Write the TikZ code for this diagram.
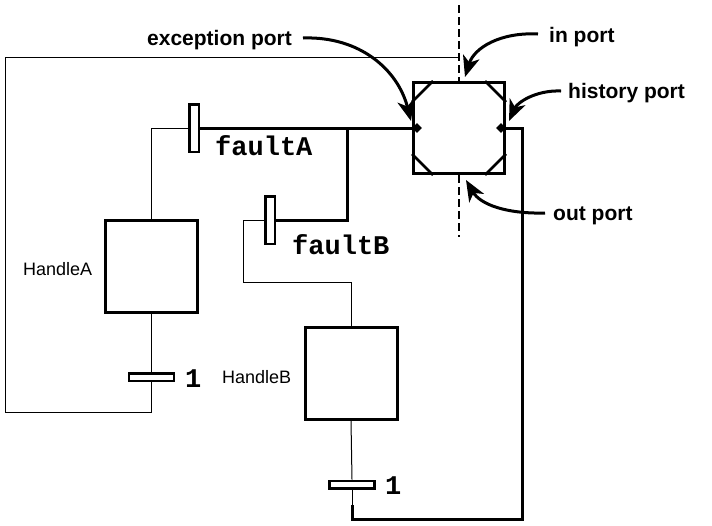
\documentclass[tikz,border=0pt]{standalone}
\usepackage{fontspec}
\setmainfont{Liberation Sans}
\newfontfamily\courfont{Liberation Mono}
\usetikzlibrary{arrows.meta,calc,shapes.geometric}
\begin{document}
\begin{tikzpicture}[x=1pt,y=-1pt,
  thinline/.style={line width=1pt},
  thickline/.style={line width=3pt},
  stepbox/.style={draw,line width=3pt,minimum width=92pt,minimum height=92pt,inner sep=0pt,fill=white},
  vbar/.style={draw,line width=2.5pt,fill=white,minimum width=9.5pt,minimum height=47.5pt,inner sep=0pt},
  hbar/.style={draw,line width=2.5pt,fill=white,minimum width=45pt,minimum height=7.5pt,inner sep=0pt},
  port/.style={diamond,fill=black,minimum width=10pt,minimum height=10pt,inner sep=0pt},
  lab/.style={anchor=base west,inner sep=0pt,font=\bfseries\fontsize{21}{21}\selectfont},
  handlelab/.style={anchor=base west,inner sep=0pt,font=\fontsize{18}{18}\selectfont},
  codelab/.style={anchor=base west,inner sep=0pt,font=\courfont\bfseries\fontsize{27}{27}\selectfont},
  callout/.style={line width=3pt,-{Stealth[length=21pt,width=17pt,inset=6pt]}},
  boundary/.style={line width=2.5pt,dash pattern=on 8pt off 4pt},
  corner/.style={line width=2.5pt}
]
\useasboundingbox (0,0) rectangle (712,525);

% macro step
\node[stepbox,minimum width=91pt,minimum height=91pt] (M) at (459,128) {};
\draw[corner] ($(M.north west)+(0,21)$) -- ($(M.north west)+(21,0)$);
\draw[corner] ($(M.north east)+(0,21)$) -- ($(M.north east)+(-21,0)$);
\draw[corner] ($(M.south west)+(0,-21)$) -- ($(M.south west)+(21,0)$);
\draw[corner] ($(M.south east)+(0,-21)$) -- ($(M.south east)+(-21,0)$);
\node[port] (exc) at (417,128) {};
\node[port] (hist) at (501,128) {};

% steps and transitions
\node[stepbox] (hA) at (151.5,266) {};
\node[stepbox] (hB) at (351,373.5) {};
\node[vbar] (fa) at (194,128) {};
\node[vbar] (fb) at (270,220) {};
\node[hbar] (tA) at (151.5,377) {};
\node[hbar] (tB) at (352,484.5) {};

% labels
\node[handlelab] (lhA) at (23,275) {HandleA};
\node[handlelab] (lhB) at (222,383) {HandleB};
\node[codelab] (lfa) at (215,155) {faultA};
\node[codelab] (lfb) at (292,254) {faultB};
\node[codelab] (l1A) at (185,387) {1};
\node[codelab] (l1B) at (385,494) {1};
\node[lab] (lexc) at (147,45) {exception port};
\node[lab] (lin) at (549,42) {in port};
\node[lab] (lhist) at (568,98) {history port};
\node[lab] (lout) at (553,220) {out port};

% coordinates
\coordinate (dtop) at (459,5);
\coordinate (dbot) at (459,237);
\coordinate (br) at (347,128);
\coordinate (rc) at (522,519);
\coordinate (bb) at (352,505);
\coordinate (la) at (5,412);
\coordinate (lt) at (5,57);
\coordinate (fbc) at (243,282);

% boundary
\draw[boundary] (dtop) -- (M.north);
\draw[boundary] (M.south) -- (dbot);

% thin connectors
\draw[thinline] (hA.north) |- (fa.west);
\draw[thinline] (hA.south) -- (tA.north);
\draw[thinline] (tA.south) |- (la) -- (lt) -- (lt -| dtop);
\draw[thinline] (fb.west) -| (fbc) -| (hB.north);
\draw[thinline] (hB.south) -- (tB.north);
\draw[thinline] (tB.south) -- (bb);

% thick connectors
\draw[thickline] (fa.east) -- (exc.west);
\draw[thickline] (br) |- (fb.east);
\draw[thickline] (hist.east) -| (rc) -| (bb);

% callouts
\coordinate (texc) at (303,38);
\coordinate (tin) at (538,34);
\coordinate (thist) at (561,91);
\coordinate (tout) at (545,213);
\draw[callout] (texc) .. controls (360,36) and (398,70) .. (411,121);
\draw[callout] (tin) .. controls (500,32) and (474,48) .. (465,77);
\draw[callout] (thist) .. controls (535,90) and (517,103) .. (509,121);
\draw[callout] (tout) .. controls (505,214) and (480,204) .. (466,180);
\end{tikzpicture}
\end{document}
